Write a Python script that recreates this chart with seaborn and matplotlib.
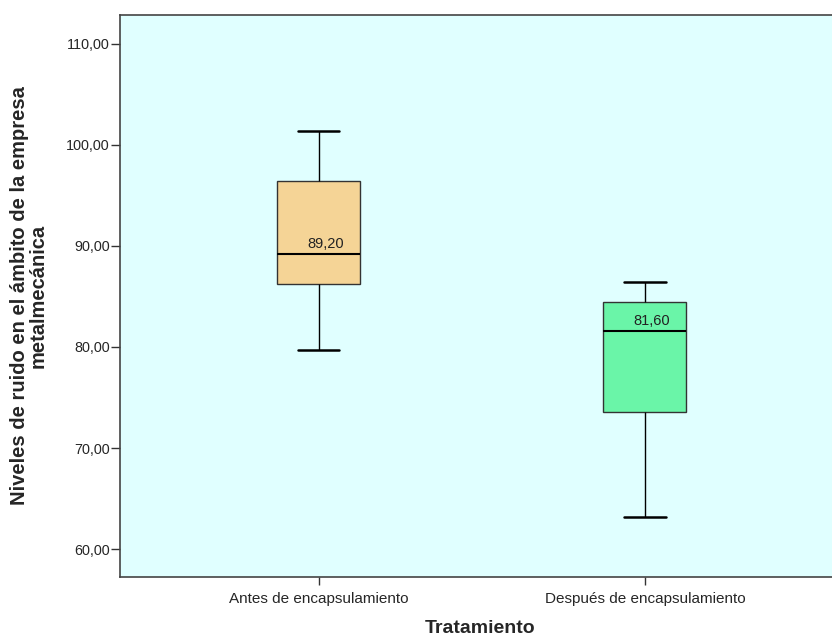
import matplotlib
matplotlib.use("Agg")
import matplotlib.pyplot as plt
import pandas as pd
import seaborn as sns

# five-number summaries (min, Q1, median, Q3, max)
categories = ["Antes de encapsulamiento", "Después de encapsulamiento"]
antes = [79.7, 86.2, 89.2, 96.4, 101.4]
despues = [63.2, 73.6, 81.6, 84.5, 86.4]
box_colors = ["#F5D496", "#6AF5A8"]
yticks = [60, 70, 80, 90, 100, 110]

df = pd.DataFrame({
    "Tratamiento": [categories[0]] * len(antes) + [categories[1]] * len(despues),
    "ruido": antes + despues,
})

sns.set_style("ticks")
plt.rcParams["font.family"] = ["Liberation Sans", "DejaVu Sans"]

fig = plt.figure(figsize=(8.32, 6.37), dpi=100)
ax = fig.add_axes([0.1442, 0.0942, 0.8558 + 0.01, 0.8823])
ax.set_facecolor("#E0FFFF")

sns.boxplot(data=df, x="Tratamiento", y="ruido", hue="Tratamiento",
            palette=box_colors, saturation=1, order=categories, width=0.254,
            whis=(0, 100), linewidth=1.0, linecolor="#333333", legend=False, ax=ax,
            medianprops=dict(color="black", linewidth=1.5),
            capprops=dict(color="black", linewidth=1.8),
            whiskerprops=dict(color="black", linewidth=1.0))

# median labels
medians = df.groupby("Tratamiento")["ruido"].median()
for i, cat in enumerate(categories):
    ax.annotate(f"{medians[cat]:.2f}".replace(".", ","), (i, medians[cat]),
                xytext=(5, 2), textcoords="offset points",
                ha="center", va="bottom", fontsize=10.5, color="#222222")

ax.set_ylim(57.23, 112.87)
ax.set_xlim(-0.609, 1.569 + 0.03)
ax.set_yticks(yticks)
ax.set_yticklabels([f"{v:.2f}".replace(".", ",") for v in yticks])
ax.tick_params(axis="y", labelsize=10.4, length=6.5, width=1, color="#333333", pad=1)
ax.tick_params(axis="x", labelsize=11, length=6, width=1, color="#333333", pad=5)

for side in ["left", "bottom", "top"]:
    ax.spines[side].set_color("#444444")
    ax.spines[side].set_linewidth(1.2)
ax.spines["right"].set_visible(False)

ax.set_xlabel("Tratamiento", fontsize=14, fontweight="bold", labelpad=10)
ax.set_ylabel("Niveles de ruido en el ámbito de la empresa\nmetalmecánica",
              fontsize=14.5, fontweight="bold", labelpad=13, linespacing=1.0)

fig.savefig("out.png", dpi=100)
